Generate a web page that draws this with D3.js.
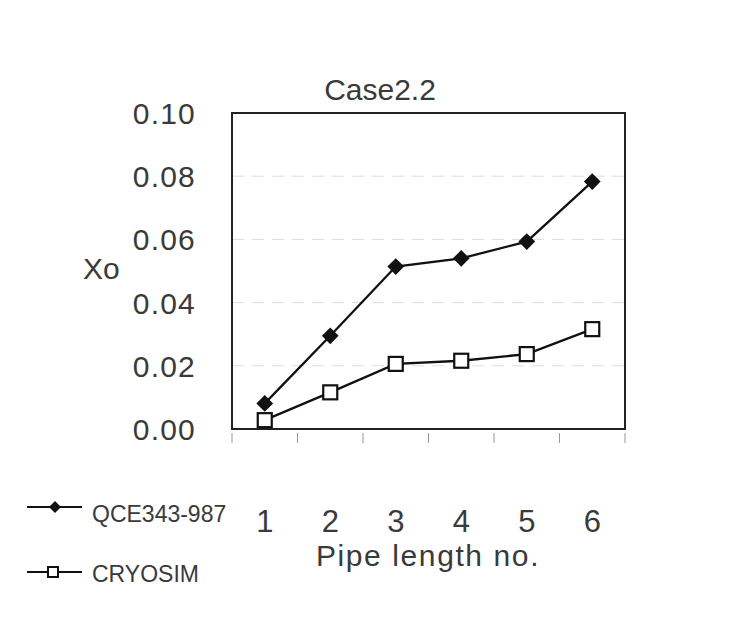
<!DOCTYPE html>
<html>
<head>
<meta charset="utf-8">
<script src="https://cdn.jsdelivr.net/npm/d3@7"></script>
<style>
  html, body { margin: 0; padding: 0; background: #fff; }
  svg { display: block; font-family: "Liberation Sans", Arial, sans-serif; }
</style>
</head>
<body>
<svg id="chart" width="743" height="617"></svg>
<script>
const title = "Case2.2";
const categories = ["1", "2", "3", "4", "5", "6"];
const seriesNames = ["QCE343-987", "CRYOSIM"];
const qceValues = [0.0081, 0.0295, 0.0514, 0.0540, 0.0593, 0.0783];
const cryosimValues = [0.0028, 0.0116, 0.0206, 0.0216, 0.0237, 0.0316];
const yTicks = [0.00, 0.02, 0.04, 0.06, 0.08, 0.10];
const gridValues = [0.02, 0.04, 0.06, 0.08];
const xTitle = "Pipe length no.";
const yTitle = "Xo";

const svg = d3.select("#chart");
const textColor = "#3a3a3a";
const plot = { left: 232, right: 625, top: 113, bottom: 429 };

const x = d3.scaleBand().domain(categories).range([plot.left, plot.right]).paddingInner(0).paddingOuter(0);
const y = d3.scaleLinear().domain([0, 0.10]).range([plot.bottom, plot.top]);

// gridlines
svg.append("g").selectAll("line").data(gridValues).join("line")
  .attr("x1", plot.left).attr("x2", plot.right)
  .attr("y1", d => y(d)).attr("y2", d => y(d))
  .attr("stroke", "#dedede").attr("stroke-width", 1)
  .attr("stroke-dasharray", "12,8");

// frame
svg.append("rect")
  .attr("x", plot.left).attr("y", plot.top)
  .attr("width", plot.right - plot.left).attr("height", plot.bottom - plot.top)
  .attr("fill", "none").attr("stroke", "#222").attr("stroke-width", 2);

// x ticks at band edges
const edges = categories.map(c => x(c)).concat([x(categories[categories.length - 1]) + x.bandwidth()]);
svg.append("g").selectAll("line").data(edges).join("line")
  .attr("x1", d => d).attr("x2", d => d)
  .attr("y1", plot.bottom + 4).attr("y2", plot.bottom + 14)
  .attr("stroke", "#999").attr("stroke-width", 1);

// x tick labels
svg.append("g").selectAll("text").data(categories).join("text")
  .attr("x", d => x(d) + x.bandwidth() / 2)
  .attr("y", 532)
  .attr("text-anchor", "middle")
  .attr("font-size", 31).attr("fill", textColor)
  .text(d => d);

// y tick labels
svg.append("g").selectAll("text").data(yTicks).join("text")
  .attr("x", 196)
  .attr("y", d => y(d) + 11)
  .attr("text-anchor", "end")
  .attr("font-size", 30).attr("letter-spacing", 1.2).attr("fill", textColor)
  .text(d => d.toFixed(2));

// title
svg.append("text").attr("x", 380).attr("y", 100)
  .attr("text-anchor", "middle").attr("font-size", 30).attr("fill", textColor)
  .text(title);

// axis titles
svg.append("text").attr("x", 83).attr("y", 279)
  .attr("font-size", 30).attr("fill", textColor).text(yTitle);
svg.append("text").attr("x", 428).attr("y", 566)
  .attr("text-anchor", "middle").attr("font-size", 30).attr("letter-spacing", 1.6)
  .attr("fill", textColor).text(xTitle);

// series
const cx = d => x(d) + x.bandwidth() / 2;
const line = d3.line().x((d, i) => cx(categories[i])).y(d => y(d));

svg.append("path").datum(qceValues).attr("d", line)
  .attr("fill", "none").attr("stroke", "#111").attr("stroke-width", 2.3);
svg.append("path").datum(cryosimValues).attr("d", line)
  .attr("fill", "none").attr("stroke", "#111").attr("stroke-width", 2.3);

const diamond = d3.symbol().type(d3.symbolSquare).size(140);
svg.append("g").selectAll("path").data(qceValues).join("path")
  .attr("d", diamond())
  .attr("transform", (d, i) => `translate(${cx(categories[i])},${y(d)}) rotate(45)`)
  .attr("fill", "#111");

svg.append("g").selectAll("rect").data(cryosimValues).join("rect")
  .attr("x", (d, i) => cx(categories[i]) - 7)
  .attr("y", d => y(d) - 7)
  .attr("width", 14).attr("height", 14)
  .attr("fill", "#fff").attr("stroke", "#111").attr("stroke-width", 2.2);

// legend
const legend = svg.append("g");
legend.append("line").attr("x1", 27).attr("x2", 82).attr("y1", 507).attr("y2", 507)
  .attr("stroke", "#111").attr("stroke-width", 2);
legend.append("path").attr("d", d3.symbol().type(d3.symbolSquare).size(72)())
  .attr("transform", "translate(55,507) rotate(45)").attr("fill", "#111");
legend.append("text").attr("x", 92).attr("y", 522).attr("font-size", 23)
  .attr("fill", textColor).text(seriesNames[0]);

legend.append("line").attr("x1", 27).attr("x2", 82).attr("y1", 572).attr("y2", 572)
  .attr("stroke", "#111").attr("stroke-width", 2);
legend.append("rect").attr("x", 48).attr("y", 567).attr("width", 10).attr("height", 10)
  .attr("fill", "#fff").attr("stroke", "#111").attr("stroke-width", 2);
legend.append("text").attr("x", 92).attr("y", 582).attr("font-size", 23)
  .attr("fill", textColor).text(seriesNames[1]);
</script>
</body>
</html>
